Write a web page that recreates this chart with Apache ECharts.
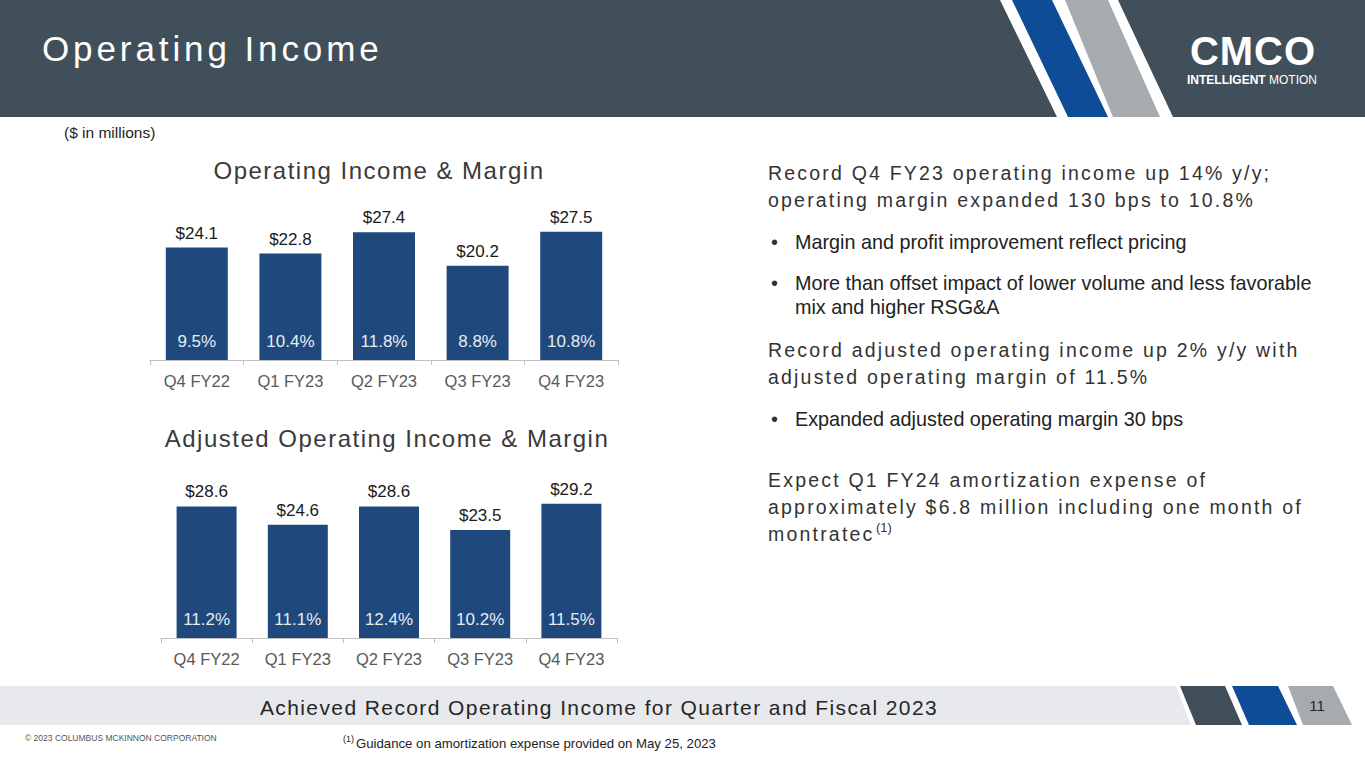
<!DOCTYPE html>
<html>
<head>
<meta charset="utf-8">
<title>Operating Income</title>
<script src="https://cdn.jsdelivr.net/npm/echarts@6/dist/echarts.min.js"></script>
<style>
  html, body { margin: 0; padding: 0; background: #fff; }
  #main { width: 1365px; height: 768px; }
  /* the slide's headings use tracked-out lettering; svg text takes css letter-spacing */
  #main text[style*="zlsa"] { letter-spacing: 3.9px; }
  #main text[style*="zlsb"] { letter-spacing: 1.5px; }
  #main text[style*="zlsc"] { letter-spacing: 2.2px; }
  #main text[style*="zlsd"] { letter-spacing: 1.4px; }
  #main text[style*="zlse"] { letter-spacing: 1px; }
</style>
</head>
<body>
<div id="main"></div>
<script>
// categories and values
var quarters = ['Q4 FY22', 'Q1 FY23', 'Q2 FY23', 'Q3 FY23', 'Q4 FY23'];
var opIncome = [24.1, 22.8, 27.4, 20.2, 27.5];
var opMargin = ['9.5%', '10.4%', '11.8%', '8.8%', '10.8%'];
var adjIncome = [28.6, 24.6, 28.6, 23.5, 29.2];
var adjMargin = ['11.2%', '11.1%', '12.4%', '10.2%', '11.5%'];

var FONT = '"Liberation Sans", Arial, sans-serif';
// same face, plus a dummy family name that the css above picks up for spacing
function spaced(tag) { return '"Liberation Sans", Arial, ' + tag; }
var BAR = '#1f497d';
var HEAD = '#414f5a';

var chart = echarts.init(document.getElementById('main'), null, {renderer: 'svg'});

//坐标轴 (same look for both charts)
function xAxisFor(idx) {
    return {
        type: 'category',
        gridIndex: idx,
        data: quarters,
        axisLine: {lineStyle: {color: '#bfbfbf', width: 1}},
        axisTick: {show: true, length: 5, lineStyle: {color: '#bfbfbf'}},
        axisLabel: {color: '#595959', fontSize: 16.5, fontFamily: FONT, margin: 12}
    };
}
function yAxisFor(idx) {
    return {
        type: 'value', gridIndex: idx, min: 0, max: 30,
        show: false, splitLine: {show: false}
    };
}

// one visible bar with margin inside, one transparent copy carrying the $ label
function barPair(idx, values, margins, width) {
    return [
        {
            type: 'bar', xAxisIndex: idx, yAxisIndex: idx,
            data: values, barWidth: width,
            itemStyle: {color: BAR},
            label: {
                show: true, position: 'insideBottom', distance: 10,
                color: '#e6ecf3', fontSize: 17, fontFamily: FONT,
                formatter: function (p) { return margins[p.dataIndex]; }
            },
            silent: true
        },
        {
            type: 'bar', xAxisIndex: idx, yAxisIndex: idx,
            data: values, barWidth: width, barGap: '-100%',
            itemStyle: {color: 'rgba(0,0,0,0)'},
            label: {
                show: true, position: 'top', distance: 6,
                color: '#1a1a1a', fontSize: 17, fontFamily: FONT,
                formatter: function (p) { return '$' + p.value.toFixed(1); }
            },
            silent: true
        }
    ];
}

function txt(text, x, y, size, color, extra, family) {
    var s = {
        text: text, x: x, y: y, fill: color,
        font: size + 'px ' + (family || FONT),
        textAlign: 'left', textVerticalAlign: 'middle'
    };
    if (extra) { for (var k in extra) s[k] = extra[k]; }
    return {type: 'text', z: 10, style: s, silent: true};
}

function poly(points, color, z) {
    return {type: 'polygon', z: z || 1, shape: {points: points}, style: {fill: color}, silent: true};
}

var HL = 19.5;   // headline size on the right
var BL = 19.8;   // bullet size

var graphics = [
    // header bar
    {type: 'rect', z: 0, shape: {x: 0, y: 0, width: 1365, height: 117}, style: {fill: HEAD}, silent: true},
    poly([[1000, 0], [1118, 0], [1173, 117], [1057, 117]], '#ffffff', 1),
    poly([[1012, 0], [1052, 0], [1108, 117], [1068, 117]], '#0f4c97', 2),
    poly([[1065, 0], [1108, 0], [1160, 117], [1113, 117]], '#a6abaf', 2),
    txt('Operating Income', 42, 48, 35, '#ffffff', null, spaced('zlsa')),
    txt('CMCO', 1253, 51, 40, '#ffffff', {textAlign: 'center', font: 'bold 40px ' + spaced('zlse')}),
    txt('{b|INTELLIGENT} {n|MOTION}', 1187, 80, 12, '#ffffff', {
        rich: {
            b: {fontSize: 12, fontWeight: 'bold', fontFamily: FONT, fill: '#ffffff'},
            n: {fontSize: 12, fontFamily: FONT, fill: '#ffffff'}
        }
    }),

    txt('($ in millions)', 64, 132, 15.5, '#222222'),

    // chart titles
    txt('Operating Income & Margin', 379, 170, 24, '#3a3a3a', {textAlign: 'center'}, spaced('zlsb')),
    txt('Adjusted Operating Income & Margin', 387, 438, 24, '#3a3a3a', {textAlign: 'center'}, spaced('zlsb')),

    // right hand commentary
    txt('Record Q4 FY23 operating income up 14% y/y;', 768, 173, HL, '#333333', null, spaced('zlsc')),
    txt('operating margin expanded 130 bps to 10.8%', 768, 200, HL, '#333333', null, spaced('zlsc')),
    txt('•', 771, 242, BL, '#333333'),
    txt('Margin and profit improvement reflect pricing', 795, 242, BL, '#222222'),
    txt('•', 771, 283, BL, '#333333'),
    txt('More than offset impact of lower volume and less favorable', 795, 283, BL, '#222222'),
    txt('mix and higher RSG&A', 795, 307, BL, '#222222'),
    txt('Record adjusted operating income up 2% y/y with', 768, 350, HL, '#333333', null, spaced('zlsc')),
    txt('adjusted operating margin of 11.5%', 768, 377, HL, '#333333', null, spaced('zlsc')),
    txt('•', 771, 419, BL, '#333333'),
    txt('Expanded adjusted operating margin 30 bps', 795, 419, BL, '#222222'),
    txt('Expect Q1 FY24 amortization expense of', 768, 480, HL, '#333333', null, spaced('zlsc')),
    txt('approximately $6.8 million including one month of', 768, 507, HL, '#333333', null, spaced('zlsc')),
    txt('montratec', 768, 534, HL, '#333333', null, spaced('zlsc')),
    txt('(1)', 876, 527, 13, '#333333'),

    // footer band
    poly([[0, 686], [1176, 686], [1191, 725], [0, 725]], '#e8e9ec', 1),
    poly([[1180, 686], [1225, 686], [1242, 725], [1196, 725]], HEAD, 2),
    poly([[1232, 686], [1278, 686], [1297, 725], [1249, 725]], '#0f4c97', 2),
    poly([[1288, 686], [1333, 686], [1352, 725], [1303, 725]], '#a6abaf', 2),
    txt('Achieved Record Operating Income for Quarter and Fiscal 2023', 599, 707, 21, '#262626', {textAlign: 'center'}, spaced('zlsd')),
    txt('11', 1317, 705, 15, '#262626', {textAlign: 'center'}),
    txt('© 2023 COLUMBUS MCKINNON CORPORATION', 25, 738, 8.5, '#555555'),
    txt('(1)', 343, 739, 9, '#222222'),
    txt('Guidance on amortization expense provided on May 25, 2023', 356, 743, 13.2, '#222222')
];

var option = {
    animation: false,
    grid: [
        {left: 150, width: 468, top: 220, height: 140},
        {left: 161, width: 456, top: 500, height: 138}
    ],
    xAxis: [xAxisFor(0), xAxisFor(1)],
    yAxis: [yAxisFor(0), yAxisFor(1)],
    series: barPair(0, opIncome, opMargin, 62).concat(barPair(1, adjIncome, adjMargin, 60)),
    graphic: graphics
};

chart.setOption(option);
</script>
</body>
</html>
